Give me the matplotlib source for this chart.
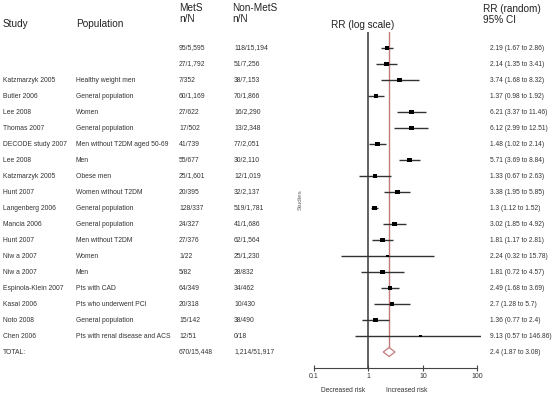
# -*- coding: utf-8 -*-

import numpy as np
import matplotlib
matplotlib.use('Agg')
import matplotlib.pyplot as plt
import matplotlib.transforms as mtransforms

plt.rcParams['font.family'] = ['Liberation Sans', 'DejaVu Sans']

# table rows (the first two have no study / population text)
studies = ['', '', 'Katzmarzyk 2005', 'Butler 2006', 'Lee 2008', 'Thomas 2007',
           'DECODE study 2007', 'Lee 2008', 'Katzmarzyk 2005', 'Hunt 2007',
           'Langenberg 2006', 'Mancia 2006', 'Hunt 2007', 'Niw a 2007',
           'Niw a 2007', 'Espinola-Klein 2007', 'Kasai 2006', 'Noto 2008',
           'Chen 2006']
populations = ['', '', 'Healthy weight men', 'General population', 'Women',
               'General population', 'Men without T2DM aged 50-69', 'Men',
               'Obese men', 'Women without T2DM', 'General population',
               'General population', 'Men without T2DM', 'Women', 'Men',
               'Pts with CAD', 'Pts who underwent PCI', 'General population',
               'Pts with renal disease and ACS']
mets = ['95/5,595', '27/1,792', '7/352', '60/1,169', '27/622', '17/502',
        '41/739', '55/677', '25/1,601', '20/395', '128/337', '24/327',
        '27/376', '1/22', '5/82', '64/349', '20/318', '15/142', '12/51']
nonmets = ['118/15,194', '51/7,256', '38/7,153', '70/1,866', '16/2,290',
           '13/2,348', '77/2,051', '30/2,110', '12/1,019', '32/2,137',
           '519/1,781', '41/1,686', '62/1,564', '25/1,230', '28/832',
           '34/462', '10/430', '38/490', '0/18']
rr = [2.19, 2.14, 3.74, 1.37, 6.21, 6.12, 1.48, 5.71, 1.33, 3.38,
      1.3, 3.02, 1.81, 2.24, 1.81, 2.49, 2.7, 1.36, 9.13]
rr_lo = [1.67, 1.35, 1.68, 0.98, 3.37, 2.99, 1.02, 3.69, 0.67, 1.95,
         1.12, 1.85, 1.17, 0.32, 0.72, 1.68, 1.28, 0.77, 0.57]
rr_hi = [2.86, 3.41, 8.32, 1.92, 11.46, 12.51, 2.14, 8.84, 2.63, 5.85,
         1.52, 4.92, 2.81, 15.78, 4.57, 3.69, 5.7, 2.4, 146.86]
# relative weight of each study (box size)
weights = [12, 11.5, 11, 11.5, 12, 12, 11.5, 11.5, 11, 11.5,
           12, 11.5, 11.5, 4.5, 11.5, 12, 11.5, 11.5, 4.5]

total_mets = '670/15,448'
total_nonmets = '1,214/51,917'
total_rr, total_lo, total_hi = 2.4, 1.87, 3.08

W, H = 553, 395
red = '#c47a7a'
txt = '#333333'


def px(x):
    return x / W


def py(y):
    return 1 - y / H


fig = plt.figure(figsize=(W / 100, H / 100), dpi=100)
ax = fig.add_axes([px(314), py(368), 166.6 / W, 336 / H])
ax.set_xscale('log')
ax.set_xlim(0.1, 115)
ax.set_ylim(20, -1)

rows = np.arange(len(rr))
total_row = len(rr)

# reference lines
ax.axvline(1, color='#555555', lw=1.3, zorder=1)
ax.plot([total_rr, total_rr], [-1, total_row - 0.28], color=red, lw=1.0, zorder=1)

# study estimates
ax.hlines(rows, rr_lo, rr_hi, color='#333333', lw=1.0, zorder=2)
ax.scatter(rr, rows, marker='s', s=weights, color='black', zorder=3, linewidths=0)

# pooled estimate
ax.fill([total_lo, total_rr, total_hi, total_rr],
        [total_row, total_row - 0.28, total_row, total_row + 0.28],
        facecolor='white', edgecolor=red, lw=0.9, zorder=3)

for s in ['top', 'right', 'left']:
    ax.spines[s].set_visible(False)
ax.spines['bottom'].set_bounds(0.1, 100)
ax.spines['bottom'].set_color('#444444')
ax.set_yticks([])
ax.set_xticks([0.1, 1, 10, 100])
ax.set_xticklabels(['0.1', '1', '10', '100'])
ax.xaxis.set_minor_locator(matplotlib.ticker.NullLocator())
ax.tick_params(axis='x', direction='inout', length=4, width=0.8,
               color='#444444', labelsize=5, labelcolor=txt, pad=1.5)

# table text, y in data rows
trans = mtransforms.blended_transform_factory(fig.transFigure, ax.transData)
fs = 4.9


def cell(x, y, s, size=fs):
    fig.text(px(x), y, s, transform=trans, va='center', ha='left',
             fontsize=size, color=txt)


for i in rows:
    cell(3, i, studies[i])
    cell(76, i, populations[i])
    cell(179, i, mets[i])
    cell(234, i, nonmets[i])
    cell(490, i, '{:g} ({:g} to {:g})'.format(rr[i], rr_lo[i], rr_hi[i]), 4.8)

cell(3, total_row, 'TOTAL:')
cell(179, total_row, total_mets)
cell(234, total_row, total_nonmets)
cell(490, total_row, '{:g} ({:g} to {:g})'.format(total_rr, total_lo, total_hi), 4.8)

# headers
hs = 7.2
hc = '#222222'
fig.text(px(3), py(24), 'Study', fontsize=hs, color=hc, va='center')
fig.text(px(76), py(24), 'Population', fontsize=hs, color=hc, va='center')
fig.text(px(179), py(8), 'MetS', fontsize=hs, color=hc, va='center')
fig.text(px(179), py(19), 'n/N', fontsize=hs, color=hc, va='center')
fig.text(px(232), py(8), 'Non-MetS', fontsize=hs, color=hc, va='center')
fig.text(px(232), py(19), 'n/N', fontsize=hs, color=hc, va='center')
fig.text(px(363), py(25), 'RR (log scale)', fontsize=hs, color=hc,
         va='center', ha='center')
fig.text(px(483), py(9), 'RR (random)', fontsize=hs, color=hc, va='center')
fig.text(px(483), py(20), '95% CI', fontsize=hs, color=hc, va='center')

fig.text(px(300), py(200), 'Studies', fontsize=4.5, color='#666666',
         rotation=90, va='center', ha='center')
fig.text(px(343), py(391), 'Decreased risk', fontsize=4.8, color=txt,
         va='center', ha='center')
fig.text(px(407), py(391), 'Increased risk', fontsize=4.8, color=txt,
         va='center', ha='center')

fig.savefig('out.png', dpi=100)
